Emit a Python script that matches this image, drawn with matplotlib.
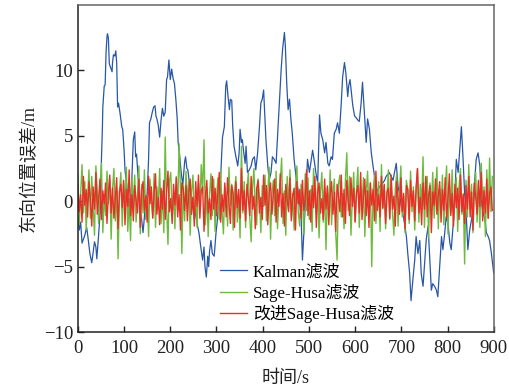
import numpy as np
import matplotlib
matplotlib.use("Agg")
import matplotlib.pyplot as plt

plt.rcParams['font.family'] = ['Liberation Serif', 'Noto Sans CJK SC']
plt.rcParams['axes.unicode_minus'] = True

# Kalman 滤波误差 (读图得到的转折点)
kalman_t = [0, 3, 6, 9, 12, 15, 19, 22, 26, 30, 32, 36, 39, 41, 44, 48, 50, 51, 53, 54,
            57, 59, 61, 63, 64, 66, 68, 70, 72, 74, 75, 77, 80, 82, 84, 86, 88, 91, 95, 97,
            100, 102, 106, 110, 113, 117, 120, 123, 125, 127, 130, 133, 135, 138, 141, 143, 146, 150, 153, 155,
            158, 161, 164, 167, 169, 171, 174, 177, 180, 183, 186, 189, 192, 194, 197, 200, 203, 206, 209, 212,
            215, 217, 220, 223, 227, 231, 233, 236, 238, 244, 252, 259, 262, 266, 270, 273, 275, 278, 281, 283,
            285, 288, 291, 295, 299, 302, 306, 309, 313, 317, 320, 322, 325, 328, 330, 333, 335, 338, 342, 346,
            349, 351, 354, 356, 359, 362, 364, 367, 371, 375, 378, 382, 385, 389, 393, 396, 399, 402, 405, 407,
            411, 414, 418, 421, 425, 429, 432, 436, 440, 443, 447, 449, 452, 455, 458, 461, 464, 468, 472, 476,
            479, 483, 486, 490, 494, 497, 501, 504, 508, 512, 515, 519, 523, 526, 530, 534, 537, 541, 544, 548,
            551, 555, 559, 562, 566, 570, 573, 577, 580, 584, 586, 589, 592, 595, 599, 602, 606, 609, 613, 616,
            620, 624, 627, 631, 635, 638, 642, 645, 649, 653, 660, 664, 667, 674, 682, 689, 693, 696, 700, 703,
            707, 711, 714, 718, 721, 725, 729, 732, 736, 740, 743, 747, 750, 754, 758, 761, 765, 768, 772, 776,
            779, 783, 787, 790, 794, 797, 801, 805, 808, 812, 815, 819, 823, 826, 830, 833, 837, 841, 844, 848,
            852, 855, 859, 862, 866, 870, 873, 877, 881, 884, 888, 891, 895, 900]
kalman_y = [-1.2, -2.2, -1.6, -3.2, -2.9, -2.6, -2.0, -2.8, -4.0, -4.7, -4.2, -3.1, -3.5, -4.4, -3.0, -1.0, 0.5, 3.2, 5.5, 7.2,
            8.8, 8.9, 11.4, 12.6, 12.8, 12.5, 10.5, 10.3, 10.1, 9.9, 10.6, 11.2, 11.1, 11.5, 10.6, 7.2, 7.5, 6.8, 5.7, 5.5,
            3.9, 2.4, 1.1, -0.3, -0.8, 1.9, 4.7, 5.3, 3.4, 3.6, 2.0, 0.9, -0.8, -1.4, -2.4, -1.6, -0.3, 0.6, 3.2, 6.0,
            6.3, 6.8, 7.2, 7.3, 6.5, 6.3, 5.8, 4.9, 6.2, 7.1, 6.5, 6.8, 9.3, 9.5, 10.8, 9.3, 10.1, 9.4, 9.0, 7.8,
            6.3, 4.5, 3.6, 2.4, 1.2, 3.0, 3.4, 2.5, 2.4, 0.6, -0.4, -1.9, -2.4, -3.5, -4.5, -3.5, -5.0, -5.8, -4.2, -5.0,
            -3.8, -3.0, -4.0, -4.2, -2.4, -1.4, 0.6, 1.9, 4.9, 5.7, 8.8, 9.2, 8.0, 7.0, 7.8, 7.7, 5.8, 4.2, 3.4, 2.7,
            3.7, 5.5, 4.5, 4.7, 3.7, 2.9, 4.2, 2.2, 2.4, 2.7, 3.2, 3.4, 2.4, 3.7, 5.7, 7.5, 7.8, 8.5, 6.3, 4.7,
            2.7, 1.6, 2.2, 3.4, 3.2, 2.9, 4.9, 7.5, 10.1, 11.6, 12.9, 11.9, 9.0, 7.0, 7.8, 6.3, 5.2, 3.2, 1.9, 1.0,
            0.0, -1.0, -4.5, -1.8, 1.1, 3.2, 2.2, 2.9, 3.9, 3.0, 2.2, 1.4, 6.6, 5.2, 4.7, 3.7, 4.5, 2.9, 2.7, 3.4,
            3.2, 5.2, 5.5, 6.0, 5.2, 7.5, 9.5, 10.6, 9.8, 8.0, 8.8, 9.3, 8.3, 7.3, 6.5, 6.4, 6.2, 6.1, 7.5, 9.1,
            6.8, 4.5, 6.3, 5.5, 3.7, 2.9, 1.9, 0.6, 0.9, 1.1, 1.4, 1.6, 1.9, 2.2, 1.6, 2.9, 1.1, 0.6, -0.4, -0.9,
            -1.7, -2.7, -4.0, -5.5, -7.6, -6.0, -4.5, -2.7, -4.0, -3.0, -5.5, -6.5, -5.0, -2.9, -1.9, -4.0, -6.8, -6.3, -6.5, -6.8,
            -7.3, -5.0, -2.7, -3.7, -2.4, -1.2, -1.7, -3.2, -3.7, -1.9, -0.4, 3.2, 2.2, 3.7, 5.7, 3.7, 0.6, -1.4, -3.7, -2.2,
            -1.4, -0.4, 1.6, 3.2, 3.7, 2.7, 0.1, -0.9, -1.4, -2.4, -2.7, -3.0, -4.0, -5.5]

# Sage-Husa 滤波误差, 每 3 s 一个读数
sage_y = [2.1, -1.8, 0.6, 2.8, -0.9, 1.5, -2.2, 0.3, 2.4, -1.3, 1.9, -0.5, -2.6, 2.7, 0.8, -1.7, 1.2, 2.9, -2.4, 0.5,
          -1.1, 2.3, -0.2, 1.6, -2.9, 0.9, 2.5, -1.5, 1.0, -4.4, 0.7, 2.2, -1.9, 1.4, -0.7, 2.6, -2.3, 0.2, -3.0, 1.8,
          -0.4, 2.0, -1.6, 0.6, 2.7, -2.5, 1.3, -0.9, 2.4, -1.4, 0.5, -2.7, 1.7, 0.1, -1.2, 2.1, -2.0, 1.1, -0.3, 2.5,
          -1.7, 0.8, -2.4, 4.9, -0.6, -3.3, 1.5, 2.2, -1.0, 0.4, -2.1, 1.9, -0.8, 4.4, 0.9, -4.0, 1.2, -1.5, 2.3, -0.2,
          1.6, -2.6, 0.7, 2.0, -1.3, 0.3, -2.0, 1.4, -0.5, 2.8, 0.6, 4.7, -1.8, 1.0, -2.7, 0.5, 2.1, -1.1, 1.7, -2.3,
          0.2, 1.8, -1.4, 2.4, -0.7, -2.5, 1.1, 0.4, -1.9, 2.6, -0.3, 1.3, -2.2, 0.8, 1.9, -1.6, 0.6, -2.8, 4.2, -0.9,
          1.5, -2.0, 0.9, 2.2, -1.2, -3.1, 1.0, 2.5, -0.6, -1.8, 1.7, 0.3, -2.4, 1.2, -0.4, 2.0, -1.5, 0.7, 2.6, -2.9,
          0.5, 1.6, -1.1, 2.3, -2.1, 0.1, 1.4, 3.3, -1.7, 0.8, -2.6, 1.9, -0.5, 2.4, -1.3, 0.6, -2.2, 1.1, 2.7, -0.8,
          -1.9, 1.3, 0.4, -2.5, 2.1, -0.7, 1.8, -1.4, 0.9, -2.3, 2.5, 0.2, -1.0, 1.5, -2.8, 0.7, 2.2, -1.6, 1.0, -3.7,
          1.2, -0.9, 2.4, -1.8, 0.5, 1.7, -2.4, -4.5, 1.3, 2.0, -1.2, 0.6, -2.1, 1.6, 3.7, -0.7, 1.9, -2.6, 0.3, 2.2,
          -1.5, 0.9, 2.6, -2.0, 1.1, -0.4, 1.8, -2.7, 0.6, 2.3, -1.1, 1.4, -5.0, 0.8, 2.0, -1.7, 0.2, 1.5, -2.3, 2.8,
          -0.6, 1.2, -2.1, 0.5, 2.4, -1.4, 1.7, -0.9, -2.6, 1.0, 2.1, -1.9, 0.7, 2.7, -1.2, 0.4, -2.4, 1.6, 0.9, -1.7,
          2.3, -0.8, 1.1, -2.2, 0.6, 2.5, -1.6, 1.3, -0.3, 3.4, -2.0, 0.8, 1.9, -2.8, 1.4, -0.6, 2.2, -1.3, 0.5, 2.6,
          -2.1, 1.0, -0.5, 2.0, -1.8, 0.9, 2.7, -2.5, 1.2, -0.9, 2.4, -1.5, 0.3, 1.8, -2.3, 1.1, 2.5, -1.0, 0.6, -4.8,
          1.6, -1.2, 2.8, -0.7, 1.3, -2.4, 0.8, 2.2, -1.6, 1.5, -2.0, 2.9, -0.4, 1.1, -2.7, 2.4, -1.3, 3.3, -0.8, 1.9]

# 改进 Sage-Husa 滤波误差, 每 3 s 一个读数
improved_y = [1.2, -0.8, 0.5, -1.6, 1.9, -0.3, 0.9, -1.2, 1.5, 0.2, -1.9, 1.1, -0.6, 2.2, -1.0, 0.4, 1.7, -1.4, 0.8, -0.2,
              1.4, -1.7, 0.6, 2.0, -0.9, 1.0, -1.3, 0.3, 1.8, -2.1, 0.7, 1.3, -0.5, 1.6, -1.8, 0.9, -0.4, 2.4, -1.1, 0.5,
              -1.5, 1.2, 0.1, -0.9, 1.7, -2.0, 0.8, 1.5, -0.7, 0.4, -1.6, 1.9, -0.2, 1.1, -1.3, 0.6, 2.1, -1.0, 0.3, -1.8,
              1.0, -0.6, 1.6, -1.4, 0.7, 2.3, -0.8, 0.2, -1.7, 1.3, -0.3, 1.8, -1.2, 0.5, -2.2, 1.4, 0.9, -0.7, 1.2, -1.5,
              0.6, 1.7, -1.0, 0.3, -1.9, 1.5, -0.4, 2.0, -1.3, 0.8, 1.1, -2.3, 0.4, 1.6, -0.9, 0.2, -1.4, 1.9, -0.6, 1.0,
              -1.1, 0.7, 2.2, -1.6, 0.5, -0.8, 1.4, -1.2, 1.8, -0.1, -1.7, 1.2, 0.6, -2.0, 1.5, -0.5, 0.9, -1.3, 2.5, -0.7,
              0.8, -1.5, 1.3, 0.2, -1.1, 1.9, -0.6, 0.4, -2.1, 1.0, 1.6, -0.9, 0.3, -1.4, 2.0, -0.3, 1.2, -1.8, 0.7, 1.4,
              -1.0, 0.5, 1.7, -1.6, 0.9, -0.4, 2.1, -1.2, 0.6, -1.9, 1.3, 0.1, -0.8, 1.8, -1.5, 0.4, 1.0, -2.2, 1.5, -0.2,
              0.9, -1.3, 1.6, -0.7, 0.3, 2.4, -1.1, 0.8, -1.6, 1.2, -0.5, 1.9, -2.0, 0.6, 1.4, -0.9, 0.2, -1.4, 1.7, -0.6,
              1.1, -1.8, 0.5, 1.5, -1.0, 0.7, -2.3, 1.3, 0.4, -0.8, 2.0, -1.2, 0.9, -1.7, 1.6, 0.1, -1.1, 1.8, -0.4, 1.0,
              -1.6, 0.6, 1.2, -0.9, 2.2, -1.4, 0.3, 1.7, -1.1, 0.8, -2.0, 1.4, -0.3, 0.9, -1.5, 2.3, -0.7, 0.5, -1.2, 1.9,
              -0.5, 1.3, -1.7, 0.7, 1.0, -1.3, 2.0, -0.6, 0.4, -1.9, 1.5, 0.2, -1.0, 1.8, -0.8, 0.6, -2.1, 1.2, 0.9, -1.4,
              1.6, -0.4, 0.8, -1.5, 1.1, 2.5, -0.9, 0.3, -1.8, 1.4, -0.6, 1.9, -1.2, 0.5, 1.2, -2.4, 0.7, -0.3, 1.7, -1.0,
              0.4, 1.5, -1.6, 0.9, -0.7, 1.8, -1.3, 0.2, 2.1, -1.1, 0.6, -1.9, 1.3, -0.5, 1.0, -1.4, 2.0, -0.8, 0.5, -1.7,
              1.2, -0.6, 1.9, -1.2, 0.7, -2.2, 1.4, 0.3, -1.0, 1.6, -0.4, 2.2, -1.5, 0.8, -0.9, 1.7, -1.3, 0.6, 1.1, -0.7]

noise_t = np.arange(len(sage_y)) * 3

fig = plt.figure(figsize=(5.09, 3.87), dpi=100)
ax = fig.add_axes([0.153, 0.142, 0.817, 0.845])

ax.plot(kalman_t, kalman_y, color='#2857a8', lw=0.9, label='Kalman滤波')
ax.plot(noise_t, sage_y, color='#6cbb3c', lw=1.0, label='Sage-Husa滤波')
ax.plot(noise_t, improved_y, color='#ec2d27', lw=1.0, label='改进Sage-Husa滤波')

ax.set_xlim(0, 900)
ax.set_ylim(-10, 15)
ax.set_xticks(range(0, 901, 100))
ax.set_yticks([-10, -5, 0, 5, 10])
ax.tick_params(direction='in', length=4, width=1, labelsize=13.5, colors='#222222')
ax.tick_params(axis='x', pad=6)

for side in ['left', 'bottom']:
    ax.spines[side].set_color('#222222')
    ax.spines[side].set_linewidth(1.1)
for side in ['top', 'right']:
    ax.spines[side].set_color('#666666')
    ax.spines[side].set_linewidth(1.1)

ax.set_xlabel('时间/s', fontsize=13, color='#222222', labelpad=9)
ax.set_ylabel('东向位置误差/m', fontsize=13, color='#222222', labelpad=4)

ax.legend(loc='lower left', bbox_to_anchor=(0.305, -0.02), frameon=False,
          fontsize=12.2, handlelength=1.6, handletextpad=0.35, labelspacing=0.2)

fig.savefig('out.png', dpi=100)
